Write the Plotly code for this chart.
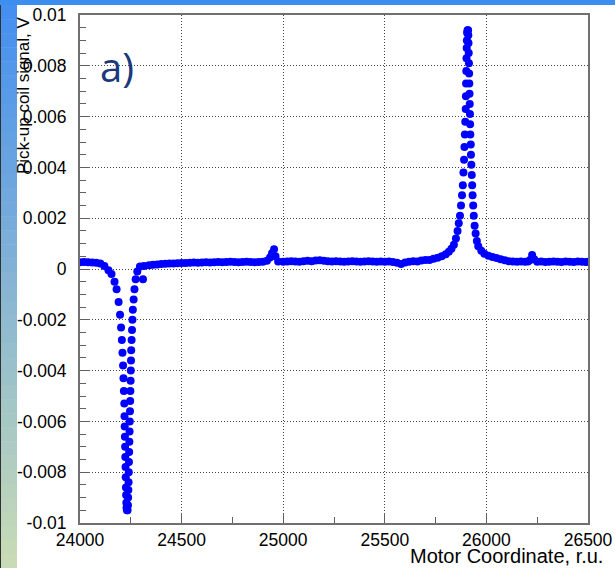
import plotly.graph_objects as go

# ---------------- data ----------------
left_x = [24000, 24020, 24040, 24060, 24080, 24100, 24120, 24140, 24155, 24170,
          24180, 24190, 24197, 24202, 24206, 24209, 24212, 24214, 24216, 24218,
          24219, 24220, 24221, 24222, 24223, 24224, 24225, 24226, 24227, 24228,
          24229, 24231]
left_y = [0.00027, 0.00028, 0.00027, 0.00026, 0.00025, 0.00022, 0.00012, -0.00005, -0.0002, -0.0005,
          -0.0008, -0.0013, -0.0018, -0.0023, -0.0028, -0.0033, -0.0038, -0.0043, -0.0048, -0.0053,
          -0.0058, -0.0062, -0.0066, -0.0070, -0.0074, -0.0078, -0.0082, -0.0086, -0.0089, -0.0092,
          -0.0094, -0.0095]

right_x = [24234, 24236, 24237, 24238, 24239, 24240, 24241, 24242, 24243, 24244,
           24245, 24246, 24247, 24248, 24249, 24250, 24251, 24252, 24254, 24256,
           24258, 24260, 24264, 24268, 24274, 24282, 24295, 24310, 24315, 24340,
           24360, 24380]
right_y = [-0.0095, -0.0093, -0.0090, -0.0087, -0.0084, -0.0080, -0.0076, -0.0072, -0.0068, -0.0064,
           -0.0060, -0.0056, -0.0052, -0.0048, -0.0044, -0.0040, -0.0036, -0.0032, -0.0028, -0.0024,
           -0.0020, -0.0016, -0.0012, -0.0008, -0.0004, -0.0001, 0.0001, -0.0004, 0.00012, 0.00015,
           0.00017, 0.00018]

mid_x = [24400, 24420, 24440, 24460, 24480, 24500, 24520, 24540, 24560, 24580,
         24600, 24620, 24640, 24660, 24680, 24700, 24720, 24740, 24760, 24780,
         24800, 24820, 24840, 24860, 24880, 24900, 24920, 24935, 24945, 24955,
         24962, 24975, 25000, 25020, 25040, 25060, 25080, 25100, 25120, 25140,
         25160, 25180, 25200, 25220, 25240, 25260, 25280, 25300, 25320, 25340,
         25360, 25380, 25400, 25420, 25440, 25460, 25480, 25500, 25520, 25540,
         25560, 25580, 25600, 25620, 25640, 25660, 25680, 25700]
mid_y = [0.00020, 0.00021, 0.00022, 0.00022, 0.00023, 0.00024, 0.00024, 0.00025, 0.00026, 0.00025,
         0.00026, 0.00027, 0.00026, 0.00027, 0.00028, 0.00027, 0.00028, 0.00029, 0.00028, 0.00027,
         0.00028, 0.00029, 0.00028, 0.00027, 0.00028, 0.00029, 0.00032, 0.00045, 0.00062, 0.00078,
         0.00050, 0.00030, 0.00029, 0.00030, 0.00031, 0.00030, 0.00029, 0.00031, 0.00032, 0.00031,
         0.00033, 0.00034, 0.00032, 0.00031, 0.00030, 0.00031, 0.00030, 0.00029, 0.00030, 0.00031,
         0.00030, 0.00029, 0.00030, 0.00031, 0.00030, 0.00029, 0.00030, 0.00029, 0.00030, 0.00028,
         0.00025, 0.00020, 0.00026, 0.00029, 0.00031, 0.00030, 0.00033, 0.00035]

peak_x = [25720, 25740, 25760, 25780, 25800, 25815, 25828, 25840, 25850, 25858,
          25864, 25870, 25875, 25880, 25884, 25887, 25890, 25892, 25894, 25896,
          25898, 25899, 25900, 25901, 25902, 25903, 25904, 25905, 25907, 25910,
          25911, 25912, 25913, 25914, 25915, 25916, 25917, 25918, 25919, 25920,
          25921, 25923, 25924, 25926, 25928, 25930, 25932, 25935, 25938, 25942,
          25947, 25953, 25960, 25975, 25990, 26010, 26030, 26050, 26070, 26090]
peak_y = [0.00035, 0.00040, 0.00044, 0.00050, 0.00058, 0.00068, 0.00080, 0.00095, 0.0012, 0.0015,
          0.0018, 0.0021, 0.0025, 0.0029, 0.0033, 0.0038, 0.0043, 0.0048, 0.0053, 0.0058,
          0.0063, 0.0068, 0.0073, 0.0078, 0.0083, 0.0087, 0.0090, 0.0093, 0.0094, 0.0094,
          0.0092, 0.0089, 0.0085, 0.0081, 0.0077, 0.0073, 0.0069, 0.0065, 0.0061, 0.0057,
          0.0053, 0.0049, 0.0045, 0.0041, 0.0037, 0.0033, 0.0029, 0.0025, 0.0021, 0.0017,
          0.0014, 0.0011, 0.0009, 0.00072, 0.00060, 0.00052, 0.00047, 0.00043, 0.00038, 0.00034]

tail_x = [26110, 26130, 26150, 26170, 26190, 26205, 26215, 26225, 26235, 26250,
          26270, 26290, 26310, 26330, 26350, 26370, 26390, 26410, 26430, 26450,
          26470, 26490, 26500]
tail_y = [0.00031, 0.00030, 0.00029, 0.00030, 0.00029, 0.00030, 0.00035, 0.00055, 0.00038, 0.00029,
          0.00030, 0.00028, 0.00029, 0.00030, 0.00029, 0.00028, 0.00030, 0.00029, 0.00028, 0.00030,
          0.00029, 0.00028, 0.00029]

motor_coord = left_x + right_x + mid_x + peak_x + tail_x
pickup_signal = left_y + right_y + mid_y + peak_y + tail_y

x_tickvals = [24000, 24500, 25000, 25500, 26000, 26500]
x_ticktext = ["24000", "24500", "25000", "25500", "26000", "26500"]
y_tickvals = [-0.01, -0.008, -0.006, -0.004, -0.002, 0, 0.002, 0.004, 0.006, 0.008, 0.01]
y_ticktext = ["-0.01", "-0.008", "-0.006", "-0.004", "-0.002", "0",
              "0.002", "0.004", "0.006", "0.008", "0.01"]

# ---------------- figure ----------------
W, H = 615, 568
L, R, T, B = 80, 27, 15, 45
PW, PH = W - L - R, H - T - B

def px(xp):
    return (xp - L) / PW

def py(yp):
    return (H - B - yp) / PH

fig = go.Figure()
fig.add_trace(go.Scatter(
    x=motor_coord, y=pickup_signal, mode="markers",
    marker=dict(color="#0000ff", size=8, line=dict(width=0)),
    showlegend=False, hoverinfo="x+y",
))

axis_common = dict(
    automargin=False,
    showline=True, linecolor="#707070", linewidth=2, mirror=True,
    ticks="inside", ticklen=10, tickcolor="#606060", tickwidth=1,
    showgrid=True, gridcolor="#444444", gridwidth=1, griddash="1px,2px",
    zeroline=False,
    tickfont=dict(family="Liberation Sans, Arial, sans-serif", size=17.5, color="black"),
)

fig.update_xaxes(range=[24000, 26500], tickvals=x_tickvals, ticktext=x_ticktext,
                 minor=dict(dtick=250, tick0=24000, ticks="inside", ticklen=6,
                            tickcolor="#606060", showgrid=False),
                 ticklabelstandoff=0, **axis_common)
fig.update_yaxes(range=[-0.01, 0.01], tickvals=y_tickvals, ticktext=y_ticktext,
                 minor=dict(dtick=0.0005, tick0=0, ticks="inside", ticklen=6,
                            tickcolor="#606060", showgrid=False),
                 ticklabelstandoff=8, **axis_common)

# decorative slide background: top bar and left gradient strip
shapes = []
shapes.append(dict(type="rect", xref="paper", yref="paper",
                   x0=px(0), x1=px(W), y0=py(0), y1=py(5),
                   fillcolor="#3d8fef", line=dict(width=0), layer="above"))
top_c = (0x45, 0x8f, 0xf0)
bot_c = (0xc8, 0xdb, 0xb6)
n = 40
for i in range(n):
    t = i / (n - 1)
    c = tuple(int(round(top_c[k] + (bot_c[k] - top_c[k]) * t)) for k in range(3))
    y0p = 5 + (H - 5) * i / n
    y1p = 5 + (H - 5) * (i + 1) / n
    shapes.append(dict(type="rect", xref="paper", yref="paper",
                       x0=px(0), x1=px(17), y0=py(y1p + 0.5), y1=py(y0p),
                       fillcolor="rgb(%d,%d,%d)" % c, line=dict(width=0), layer="above"))
shapes.append(dict(type="line", xref="paper", yref="paper",
                   x0=px(0.5), x1=px(0.5), y0=py(H), y1=py(5),
                   line=dict(color="#303030", width=1), layer="above"))

annotations = [
    dict(text="Pick-up coil signal, V", xref="paper", yref="paper",
         x=px(23), y=py(14), xanchor="center", yanchor="top", textangle=-90,
         showarrow=False, font=dict(family="Liberation Sans, Arial, sans-serif", size=17, color="black")),
    dict(text="Motor Coordinate, r.u.", xref="paper", yref="paper",
         x=px(605), y=py(556), xanchor="right", yanchor="middle",
         showarrow=False, font=dict(family="Liberation Sans, Arial, sans-serif", size=20, color="black")),
    dict(text="a)", xref="paper", yref="paper",
         x=px(117), y=py(66), xanchor="center", yanchor="middle",
         showarrow=False, font=dict(family="Open Sans, sans-serif", size=40, color="#1a387c")),
]

fig.update_layout(
    width=W, height=H, autosize=False,
    margin=dict(l=L, r=R, t=T, b=B, pad=0, autoexpand=False),
    paper_bgcolor="white", plot_bgcolor="white",
    shapes=shapes, annotations=annotations,
)

fig.write_html(
    "out.html",
    config={"displayModeBar": False},
    post_script=("document.documentElement.style.margin='0';"
                 "document.documentElement.style.overflow='hidden';"
                 "document.body.style.margin='0';document.body.style.padding='0';"
                 "document.body.style.overflow='hidden';"
                 "var gd=document.getElementById('{plot_id}');"
                 "gd.style.position='fixed';gd.style.left='0px';gd.style.top='0px';"),
)
